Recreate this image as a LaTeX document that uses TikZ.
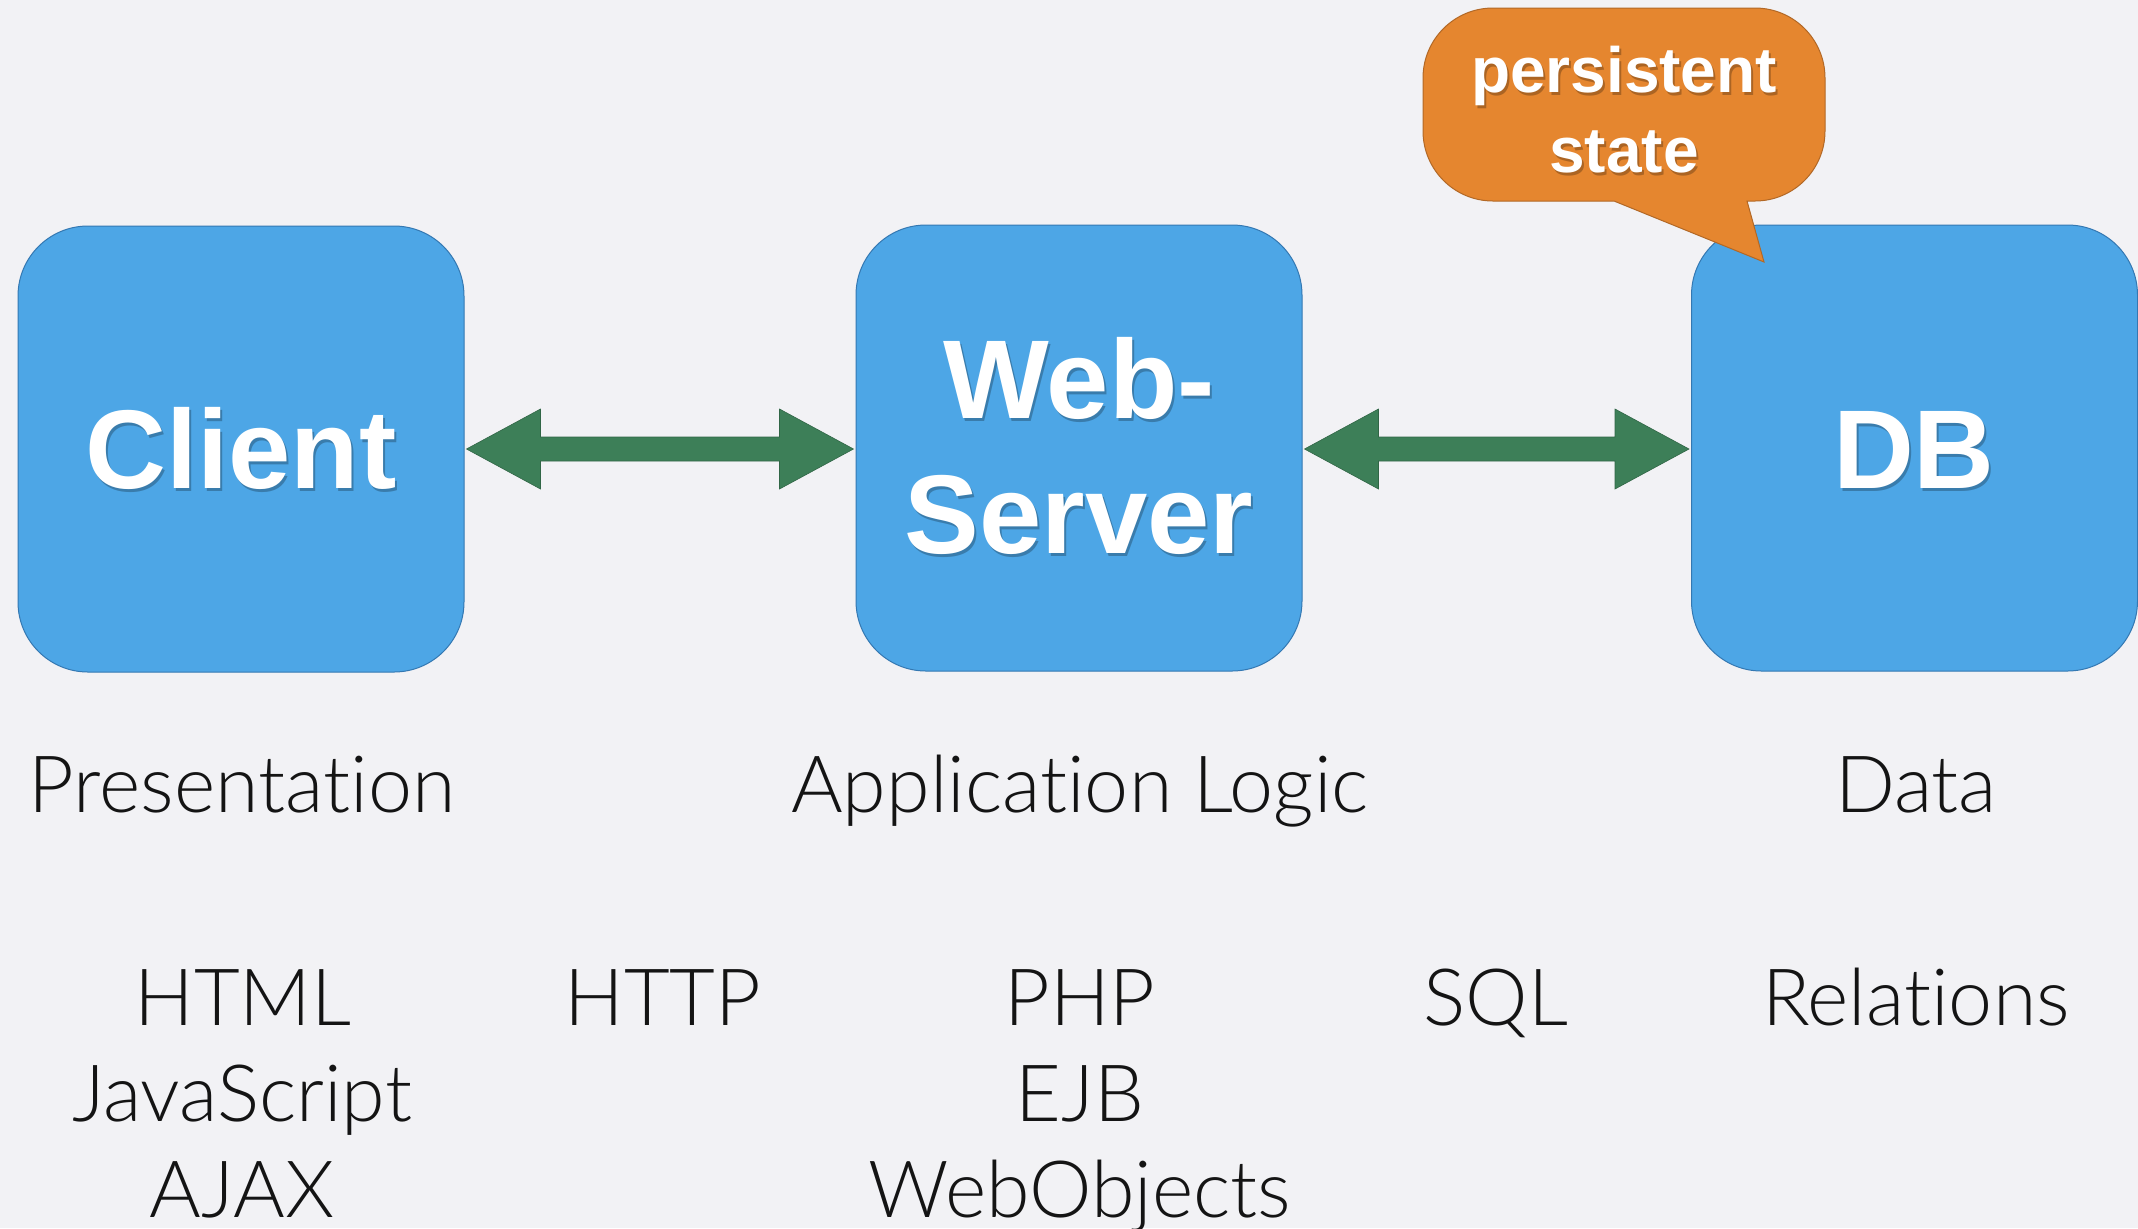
\documentclass[tikz,border=0pt]{standalone}
\usepackage{fontspec}
\setmainfont{Liberation Sans}
\newfontfamily\lightfont{Lato Light}[Ligatures={NoCommon}]
\usetikzlibrary{calc}
\definecolor{bg}{RGB}{242,242,245}
\definecolor{boxfill}{RGB}{77,166,230}
\definecolor{boxline}{RGB}{52,120,178}
\definecolor{arrowgreen}{RGB}{61,127,88}
\definecolor{calloutfill}{RGB}{229,134,47}
\definecolor{calloutline}{RGB}{178,104,38}
\definecolor{labeltext}{RGB}{20,20,20}
\tikzset{
  tierbox/.style={draw=boxline, line width=0.5pt, fill=boxfill, rounded corners=35pt,
    minimum width=223pt, minimum height=223pt, inner sep=0pt},
  boxtext/.style={text=white, font=\bfseries\fontsize{56}{67}\selectfont, anchor=base, inner sep=0pt},
  boxshadow/.style={text=black, opacity=0.25, font=\bfseries\fontsize{56}{67}\selectfont, anchor=base, inner sep=0pt},
  callouttext/.style={text=white, font=\bfseries\fontsize{32}{40}\selectfont, anchor=base, inner sep=0pt},
  calloutshadow/.style={text=black, opacity=0.25, font=\bfseries\fontsize{32}{40}\selectfont, anchor=base, inner sep=0pt},
  tierlabel/.style={text=labeltext, font=\lightfont\fontsize{39.5}{46}\selectfont, anchor=base, inner sep=0pt},
  biarrow/.style={fill=arrowgreen, draw=arrowgreen!80!black, line width=0.3pt},
}
\begin{document}
\begin{tikzpicture}[x=0.5pt, y=-0.5pt]
  \fill[bg] (0,0) rectangle (2138,1228);
  \useasboundingbox (0,0) rectangle (2138,1228);

  % boxes
  \node[tierbox] (client) at (241,449) {};
  \node[tierbox] (web) at (1079,448) {};
  \node[tierbox] (db) at (1914.5,448) {};

  % box texts
  \node[boxshadow] at (243,491.5) {Client};
  \node[boxtext] (clientlbl) at (241,488) {Client};
  \node[boxshadow] at (1081,421.5) {Web-};
  \node[boxtext] (weblbl1) at (1079,418) {Web-};
  \node[boxshadow] at (1081,556.5) {Server};
  \node[boxtext] (weblbl2) at (1079,553) {Server};
  \node[boxshadow] at (1916,491.5) {DB};
  \node[boxtext] (dblbl) at (1914,488) {DB};

  % double arrows
  \fill[biarrow] let \p1=($(client.east)+(2,0)$), \p2=($(web.west)+(-2,0)$) in
    (\p1) -- (\x1+37pt,\y1+20pt) -- (\x1+37pt,\y1+6pt) -- (\x2-37pt,\y1+6pt)
    -- (\x2-37pt,\y1+20pt) -- (\x2,\y1) -- (\x2-37pt,\y1-20pt) -- (\x2-37pt,\y1-6pt)
    -- (\x1+37pt,\y1-6pt) -- (\x1+37pt,\y1-20pt) -- cycle;
  \fill[biarrow] let \p1=($(web.east)+(2,0)$), \p2=($(db.west)+(-2,0)$), \p3=(client.east) in
    (\x1,\y3) -- (\x1+37pt,\y3+20pt) -- (\x1+37pt,\y3+6pt) -- (\x2-37pt,\y3+6pt)
    -- (\x2-37pt,\y3+20pt) -- (\x2,\y3) -- (\x2-37pt,\y3-20pt) -- (\x2-37pt,\y3-6pt)
    -- (\x1+37pt,\y3-6pt) -- (\x1+37pt,\y3-20pt) -- cycle;

  % callout
  \coordinate (tip) at (1764,262);
  \draw[fill=calloutfill, draw=calloutline, line width=0.5pt]
    (1614,201) [rounded corners=35pt] -- (1423,201) -- (1423,8) -- (1825,8) -- (1825,201)
    [sharp corners] -- (1747,201) -- (tip) -- cycle;
  \node[calloutshadow] at (1626,95) {persistent};
  \node[callouttext] (callout1) at (1624,92) {persistent};
  \node[calloutshadow] at (1626,175) {state};
  \node[callouttext] (callout2) at (1624,172) {state};

  % tier labels
  \node[tierlabel] (pres) at (242,812) {Presentation};
  \node[tierlabel] (applogic) at (1080,812) {Application Logic};
  \node[tierlabel] (data) at (1916,812) {Data};

  \node[tierlabel] (html) at (243,1025) {HTML};
  \node[tierlabel] (js) at (242,1121) {JavaScript};
  \node[tierlabel] (ajax) at (242,1217) {AJAX};
  \node[tierlabel] (http) at (663,1025) {HTTP};
  \node[tierlabel] (php) at (1080,1025) {PHP};
  \node[tierlabel] (ejb) at (1080,1121) {EJB};
  \node[tierlabel] (webobj) at (1080,1217) {WebObjects};
  \node[tierlabel] (sql) at (1496,1025) {SQL};
  \node[tierlabel] (rel) at (1916,1025) {Relations};
\end{tikzpicture}
\end{document}
